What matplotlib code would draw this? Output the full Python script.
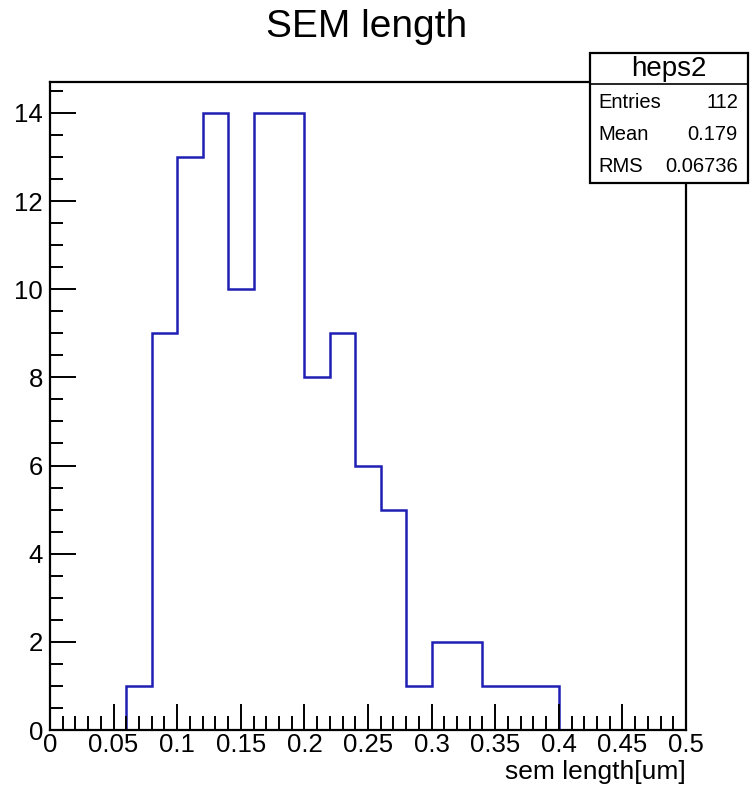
import numpy as np
import matplotlib
matplotlib.use("Agg")
import matplotlib.pyplot as plt
from matplotlib.ticker import MultipleLocator
from matplotlib.patches import Rectangle

plt.rcParams['font.family'] = ['Liberation Sans', 'DejaVu Sans']

# Histogram contents: 25 bins of width 0.02 over [0, 0.5]
bin_edges = np.round(np.arange(0, 0.5001, 0.02), 4)
counts = [0, 0, 0, 1, 9, 13, 14, 10, 14, 14, 8, 9, 6, 5, 1, 2, 2, 1, 1, 1,
          0, 0, 0, 0, 0]
stats_name = "heps2"
stats_rows = [("Entries", "112"), ("Mean", "0.179"), ("RMS", "0.06736")]

fig = plt.figure(figsize=(7.52, 7.90), dpi=100)
ax = fig.add_axes([50/752, 1-730/790, 636/752, 648/790])

ax.stairs(counts, bin_edges, color='#1f1fb4', linewidth=1.8)

ax.set_xlim(0, 0.5)
ax.set_ylim(0, max(counts) * 1.05)
ax.xaxis.set_major_locator(MultipleLocator(0.05))
ax.xaxis.set_minor_locator(MultipleLocator(0.01))
ax.yaxis.set_major_locator(MultipleLocator(2))
ax.yaxis.set_minor_locator(MultipleLocator(0.5))
ax.xaxis.set_major_formatter(plt.FuncFormatter(lambda v, p: f"{v:g}"))
ax.tick_params(axis='both', which='both', direction='in', top=False, right=False,
               labelsize=18.5, width=1.4)
ax.tick_params(axis='x', which='major', length=19, pad=2)
ax.tick_params(axis='x', which='minor', length=10)
ax.tick_params(axis='y', which='major', length=19, pad=5)
ax.tick_params(axis='y', which='minor', length=9)
for s in ax.spines.values():
    s.set_linewidth(1.6)

ax.set_xlabel("sem length[um]", fontsize=19, loc='right', labelpad=2)
fig.text(367/752, 1-27/790, "SEM length", fontsize=28, ha='center', va='center')

# Statistics box
bx0, bx1 = 590/752, 748/752
by_top, by_mid, by_bot = 1-53/790, 1-84/790, 1-183/790
fig.patches.append(Rectangle((bx0, by_bot), bx1-bx0, by_top-by_bot, transform=fig.transFigure,
                             facecolor='white', edgecolor='black', linewidth=1.6, zorder=5))
fig.lines.append(plt.Line2D([bx0, bx1], [by_mid, by_mid], transform=fig.transFigure,
                            color='black', linewidth=1.2, zorder=6))
fig.text((bx0+bx1)/2, 1-69/790, stats_name, fontsize=20, ha='center', va='center', zorder=7)
row_y = [103, 134, 167]
for (k, v), yy in zip(stats_rows, row_y):
    fig.text(598/752, 1-yy/790, k, fontsize=14.5, ha='left', va='center', zorder=7)
    fig.text(738/752, 1-yy/790, v, fontsize=14.5, ha='right', va='center', zorder=7)

fig.savefig("out.png", dpi=100, facecolor='white')
